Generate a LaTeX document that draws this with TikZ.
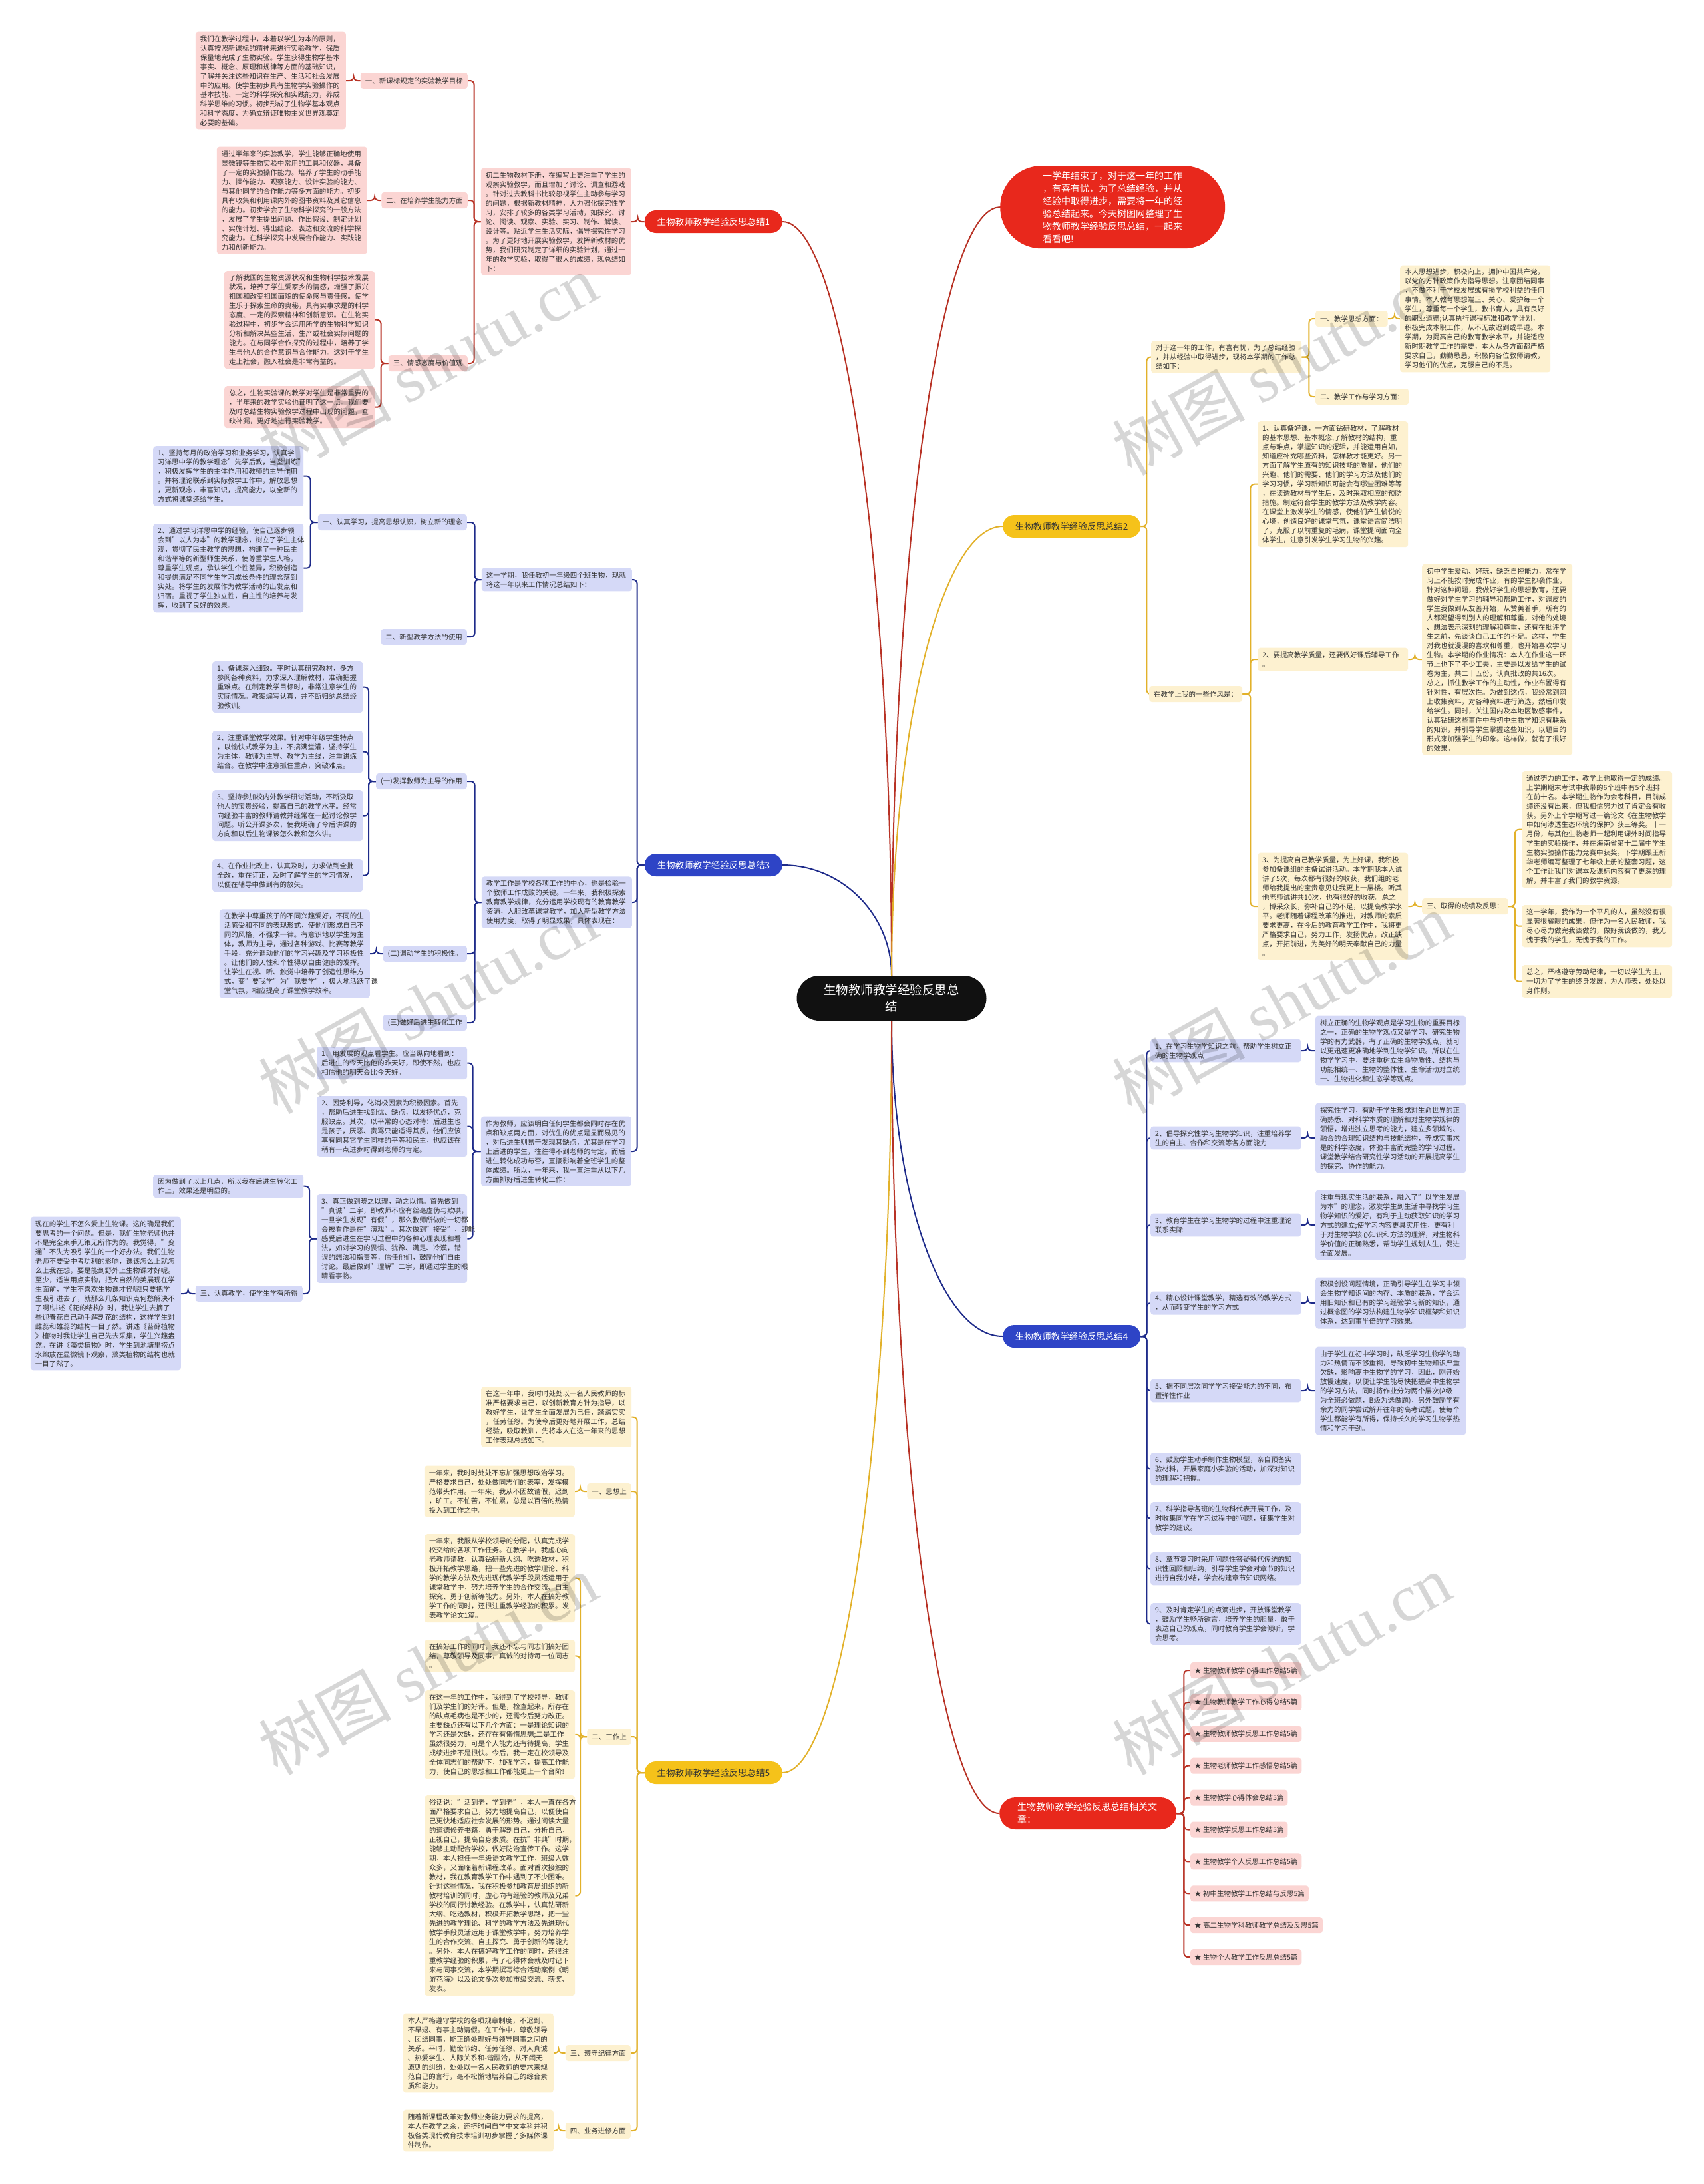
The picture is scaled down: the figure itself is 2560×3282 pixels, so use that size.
\documentclass[tikz,border=0pt]{standalone}
\usepackage{fontspec}
\setmainfont{Noto Sans CJK SC}
\newfontfamily\wmlatin{Liberation Serif}
\usetikzlibrary{backgrounds}
\definecolor{redL}{HTML}{B83225}
\definecolor{redF}{HTML}{E8281C}
\definecolor{pinkF}{HTML}{FBD5D3}
\definecolor{goldL}{HTML}{E2B12A}
\definecolor{goldF}{HTML}{F5C21A}
\definecolor{creamF}{HTML}{FDF1D0}
\definecolor{navyL}{HTML}{1E2B8A}
\definecolor{blueF}{HTML}{2E44C6}
\definecolor{lavF}{HTML}{D5D9F7}
\definecolor{txt}{HTML}{333333}
\definecolor{rootF}{HTML}{111111}
\newcommand{\Lc}[4]{\draw[#1] (#2.west) -- ++(-#3,0) |- (#4.east);}
\newcommand{\Rc}[4]{\draw[#1] (#2.east) -- ++(#3,0) |- (#4.west);}
\begin{document}
\begin{tikzpicture}[x=1pt,y=-1pt,
  every node/.style={font=\fontsize{10.5}{14}\selectfont, text=txt},
  box/.style={rounded corners=4pt, inner xsep=7pt, inner ysep=5.5pt, text width=212pt, align=left},
  b1/.style={box, fill=pinkF},
  b2/.style={box, fill=creamF},
  b3/.style={box, fill=lavF},
  lab/.style={rounded corners=4pt, inner xsep=7pt, inner ysep=4pt, minimum height=24pt},
  l1/.style={lab, fill=pinkF},
  l2/.style={lab, fill=creamF},
  l3/.style={lab, fill=lavF},
  blab/.style={rounded corners=17pt, minimum width=207pt, minimum height=34pt, font=\fontsize{13.5}{16}\selectfont},
  c1/.style={draw=redL, line width=2pt, rounded corners=6pt},
  c2/.style={draw=goldL, line width=2pt, rounded corners=6pt},
  c3/.style={draw=navyL, line width=2pt, rounded corners=6pt},
  m1/.style={draw=redL, line width=2pt},
  m2/.style={draw=goldL, line width=2pt},
  m3/.style={draw=navyL, line width=2pt}]
\useasboundingbox (0,0) rectangle (2560,3282);

% ---------------- central
\node[fill=rootF, text=white, rounded corners=34pt, minimum width=285pt, minimum height=68pt, text width=215pt, align=center, inner xsep=35pt, font=\fontsize{18.5}{25}\selectfont] (C) at (1340,1500) {生物教师教学经验反思总\\结};

% ---------------- branch 1
\node[blab, fill=redF, text=white, anchor=east] (B1) at (1176,333) {生物教师教学经验反思总结1};
\node[b1, anchor=east] (M1) at (949,333) {初二生物教材下册，在编写上更注重了学生的\\
观察实验教学，而且增加了讨论、调查和游戏\\
。针对过去教科书比较忽视学生主动参与学习\\
的问题，根据新教材精神，大力强化探究性学\\
习，安排了较多的各类学习活动，如探究、讨\\
论、阅读、观察、实验、实习、制作、解读、\\
设计等。贴近学生生活实际，倡导探究性学习\\
。为了更好地开展实验教学，发挥新教材的优\\
势，我们研究制定了详细的实验计划，通过一\\
年的教学实验，取得了很大的成绩，现总结如\\
下：};
\node[l1, anchor=east] (L1a) at (703,121) {一、新课标规定的实验教学目标};
\node[l1, anchor=east] (L1b) at (703,301) {二、在培养学生能力方面};
\node[l1, anchor=east] (L1c) at (703,546) {三、情感态度与价值观};
\node[b1, anchor=east] (A1) at (520,121) {我们在教学过程中，本着以学生为本的原则，\\
认真按照新课标的精神来进行实验教学，保质\\
保量地完成了生物实验。学生获得生物学基本\\
事实、概念、原理和规律等方面的基础知识，\\
了解并关注这些知识在生产、生活和社会发展\\
中的应用。使学生初步具有生物学实验操作的\\
基本技能、一定的科学探究和实践能力，养成\\
科学思维的习惯。初步形成了生物学基本观点\\
和科学态度，为确立辩证唯物主义世界观奠定\\
必要的基础。};
\node[b1, anchor=east] (A2) at (552,301) {通过半年来的实验教学，学生能够正确地使用\\
显微镜等生物实验中常用的工具和仪器，具备\\
了一定的实验操作能力。培养了学生的动手能\\
力、操作能力、观察能力、设计实验的能力、\\
与其他同学的合作能力等多方面的能力。初步\\
具有收集和利用课内外的图书资料及其它信息\\
的能力。初步学会了生物科学探究的一般方法\\
，发展了学生提出问题、作出假设、制定计划\\
、实施计划、得出结论、表达和交流的科学探\\
究能力。在科学探究中发展合作能力、实践能\\
力和创新能力。};
\node[b1, anchor=north west] (A3) at (337,407) {了解我国的生物资源状况和生物科学技术发展\\
状况，培养了学生爱家乡的情感，增强了振兴\\
祖国和改变祖国面貌的使命感与责任感。使学\\
生乐于探索生命的奥秘，具有实事求是的科学\\
态度、一定的探索精神和创新意识。在生物实\\
验过程中，初步学会运用所学的生物科学知识\\
分析和解决某些生活、生产或社会实际问题的\\
能力。在与同学合作探究的过程中，培养了学\\
生与他人的合作意识与合作能力。这对于学生\\
走上社会，融入社会是非常有益的。};
\node[b1, anchor=north west] (A4) at (337,580) {总之，生物实验课的教学对学生是非常重要的\\
，半年来的教学实验也证明了这一点。我们要\\
及时总结生物实验教学过程中出现的问题，查\\
缺补漏，更好地进行实验教学。};

% ---------------- branch 3
\node[blab, fill=blueF, text=white, anchor=east] (B3) at (1176,1300) {生物教师教学经验反思总结3};
\node[b3, anchor=east] (M3a) at (950,871) {这一学期，我任教初一年级四个班生物，现就\\
将这一年以来工作情况总结如下：};
\node[l3, anchor=east] (L3a) at (702,785) {一、认真学习，提高思想认识，树立新的理念};
\node[l3, anchor=east] (L3b) at (702,957) {二、新型教学方法的使用};
\node[b3, anchor=north west] (T1) at (230,670) {1、坚持每月的政治学习和业务学习，认真学\\
习洋思中学的教学理念"先学后教，当堂训练"\\
，积极发挥学生的主体作用和教师的主导作用\\
。并将理论联系到实际教学工作中，解放思想\\
，更新观念，丰富知识，提高能力，以全新的\\
方式将课堂还给学生。};
\node[b3, anchor=north west] (T2) at (230,787) {2、通过学习洋思中学的经验，使自己逐步领\\
会到"以人为本"的教学理念，树立了学生主体\\
观，贯彻了民主教学的思想，构建了一种民主\\
和谐平等的新型师生关系，使尊重学生人格，\\
尊重学生观点，承认学生个性差异，积极创造\\
和提供满足不同学生学习成长条件的理念落到\\
实处。将学生的发展作为教学活动的出发点和\\
归宿。重视了学生独立性，自主性的培养与发\\
挥，收到了良好的效果。};
\node[b3, anchor=east] (M3b) at (950,1356) {教学工作是学校各项工作的中心，也是检验一\\
个教师工作成败的关键。一年来，我积极探索\\
教育教学规律，充分运用学校现有的教育教学\\
资源，大胆改革课堂教学，加大新型教学方法\\
使用力度，取得了明显效果，具体表现在：};
\node[l3, anchor=east] (L3c) at (702,1174) {(一)发挥教师为主导的作用};
\node[l3, anchor=east] (L3d) at (702,1433) {(二)调动学生的积极性。};
\node[l3, anchor=east] (L3e) at (702,1537) {(三)做好后进生转化工作};
\node[b3, anchor=north west] (T31) at (319,994) {1、备课深入细致。平时认真研究教材，多方\\
参阅各种资料，力求深入理解教材，准确把握\\
重难点。在制定教学目标时，非常注意学生的\\
实际情况。教案编写认真，并不断归纳总结经\\
验教训。};
\node[b3, anchor=north west] (T32) at (319,1098) {2、注重课堂教学效果。针对中年级学生特点\\
，以愉快式教学为主，不搞满堂灌，坚持学生\\
为主体，教师为主导、教学为主线，注重讲练\\
结合。在教学中注意抓住重点，突破难点。};
\node[b3, anchor=north west] (T33) at (319,1187) {3、坚持参加校内外教学研讨活动，不断汲取\\
他人的宝贵经验，提高自己的教学水平。经常\\
向经验丰富的教师请教并经常在一起讨论教学\\
问题。听公开课多次，使我明确了今后讲课的\\
方向和以后生物课该怎么教和怎么讲。};
\node[b3, anchor=north west] (T34) at (319,1291) {4、在作业批改上，认真及时，力求做到全批\\
全改，重在订正，及时了解学生的学习情况，\\
以便在辅导中做到有的放矢。};
\node[b3, anchor=east] (T35) at (556,1433) {在教学中尊重孩子的不同兴趣爱好，不同的生\\
活感受和不同的表现形式，使他们形成自己不\\
同的风格，不强求一律。有意识地以学生为主\\
体，教师为主导，通过各种游戏、比赛等教学\\
手段，充分调动他们的学习兴趣及学习积极性\\
。让他们的天性和个性得以自由健康的发挥。\\
让学生在视、听、触觉中培养了创造性思维方\\
式，变"要我学"为"我要学"，极大地活跃了课\\
堂气氛，相应提高了课堂教学效率。};
\node[b3, anchor=east] (M3c) at (949,1730) {作为教师，应该明白任何学生都会同时存在优\\
点和缺点两方面，对优生的优点是显而易见的\\
，对后进生则易于发现其缺点，尤其是在学习\\
上后进的学生，往往得不到老师的肯定，而后\\
进生转化成功与否，直接影响着全班学生的整\\
体成绩。所以，一年来，我一直注重从以下几\\
方面抓好后进生转化工作：};
\node[b3, anchor=north west] (T41) at (476,1573) {1、用发展的观点看学生。应当纵向地看到：\\
后进生的今天比他的昨天好，即使不然，也应\\
相信他的明天会比今天好。};
\node[b3, anchor=north west] (T42) at (476,1647) {2、因势利导，化消极因素为积极因素。首先\\
，帮助后进生找到优、缺点，以发扬优点，克\\
服缺点。其次，以平常的心态对待：后进生也\\
是孩子，厌恶、责骂只能适得其反，他们应该\\
享有同其它学生同样的平等和民主，也应该在\\
稍有一点进步时得到老师的肯定。};
\node[b3, anchor=north west] (T43) at (476,1795) {3、真正做到晓之以理，动之以情。首先做到\\
"真诚"二字，即教师不应有丝毫虚伪与欺哄，\\
一旦学生发现"有假"，那么教师所做的一切都\\
会被看作是在"演戏"。其次做到"接受"，即能\\
感受后进生在学习过程中的各种心理表现和看\\
法，如对学习的畏惧、犹豫、满足、冷漠，错\\
误的想法和指责等，信任他们，鼓励他们自由\\
讨论。最后做到"理解"二字，即通过学生的眼\\
睛看事物。};
\node[b3, anchor=north west] (T44) at (230,1765) {因为做到了以上几点，所以我在后进生转化工\\
作上，效果还是明显的。};
\node[l3, anchor=east] (L3f) at (455,1944) {三、认真教学，使学生学有所得};
\node[b3, anchor=east] (T45) at (272,1944) {现在的学生不怎么爱上生物课。这的确是我们\\
要思考的一个问题。但是，我们生物老师也并\\
不是完全束手无策无所作为的。我觉得，"变\\
通"不失为吸引学生的一个好办法。我们生物\\
老师不要受中考功利的影响，课该怎么上就怎\\
么上我在想，要是能到野外上生物课才好呢。\\
至少，适当用点实物，把大自然的美展现在学\\
生面前，学生不喜欢生物课才怪呢!只要把学\\
生吸引进去了，就那么几条知识点何愁解决不\\
了啊!讲述《花的结构》时，我让学生去摘了\\
些迎春花自己动手解剖花的结构，这样学生对\\
雌蕊和雄蕊的结构一目了然。讲述《苔藓植物\\
》植物时我让学生自己先去采集，学生兴趣盎\\
然。在讲《藻类植物》时，学生到池塘里捞点\\
水绵放在显微镜下观察，藻类植物的结构也就\\
一目了然了。};

% ---------------- branch 5
\node[blab, fill=goldF, anchor=east] (B5) at (1176,2664) {生物教师教学经验反思总结5};
\node[b2, anchor=north west] (P1) at (723,2084) {在这一年中，我时时处处以一名人民教师的标\\
准严格要求自己，以创新教育方针为指导，以\\
教好学生，让学生全面发展为己任，踏踏实实\\
，任劳任怨。为使今后更好地开展工作，总结\\
经验，吸取教训，先将本人在这一年来的思想\\
工作表现总结如下。};
\node[l2, anchor=east] (L5a) at (949,2241) {一、思想上};
\node[b2, anchor=east] (P2) at (864,2241) {一年来，我时时处处不忘加强思想政治学习。\\
严格要求自己，处处做同志们的表率，发挥模\\
范带头作用。一年来，我从不因故请假，迟到\\
，旷工。不怕苦，不怕累，总是以百倍的热情\\
投入到工作之中。};
\node[l2, anchor=east] (L5b) at (949,2610) {二、工作上};
\node[b2, anchor=north west] (P3) at (638,2305) {一年来，我服从学校领导的分配，认真完成学\\
校交给的各项工作任务。在教学中，我虚心向\\
老教师请教，认真钻研新大纲、吃透教材，积\\
极开拓教学思路，把一些先进的教学理论、科\\
学的教学方法及先进现代教学手段灵活运用于\\
课堂教学中，努力培养学生的合作交流、自主\\
探究、勇于创新等能力。另外，本人在搞好教\\
学工作的同时，还很注重教学经验的积累。发\\
表教学论文1篇。};
\node[b2, anchor=north west] (P4) at (638,2464) {在搞好工作的同时，我还不忘与同志们搞好团\\
结，尊敬领导及同事，真诚的对待每一位同志\\
。};
\node[b2, anchor=north west] (P5) at (638,2540) {在这一年的工作中，我得到了学校领导，教师\\
们及学生们的好评。但是，检查起来，所存在\\
的缺点毛病也是不少的，还需今后努力改正。\\
主要缺点还有以下几个方面：一是理论知识的\\
学习还是欠缺，还存在有懒惰思想;二是工作\\
虽然很努力，可是个人能力还有待提高，学生\\
成绩进步不是很快。今后，我一定在校领导及\\
全体同志们的帮助下，加强学习，提高工作能\\
力，使自己的思想和工作都能更上一个台阶!};
\node[b2, anchor=north west] (P6) at (638,2698) {俗话说："活到老，学到老"，本人一直在各方\\
面严格要求自己，努力地提高自己，以便使自\\
己更快地适应社会发展的形势。通过阅读大量\\
的道德修养书籍，勇于解剖自己，分析自己，\\
正视自己，提高自身素质。在抗"非典"时期，\\
能够主动配合学校，做好防治宣传工作。这学\\
期，本人担任一年级语文教学工作，班级人数\\
众多，又面临着新课程改革。面对首次接触的\\
教材，我在教育教学工作中遇到了不少困难。\\
针对这些情况，我在积极参加教育局组织的新\\
教材培训的同时，虚心向有经验的教师及兄弟\\
学校的同行讨教经验。在教学中，认真钻研新\\
大纲、吃透教材，积极开拓教学思路，把一些\\
先进的教学理论、科学的教学方法及先进现代\\
教学手段灵活运用于课堂教学中，努力培养学\\
生的合作交流、自主探究、勇于创新的等能力\\
。另外，本人在搞好教学工作的同时，还很注\\
重教学经验的积累，有了心得体会就及时记下\\
来与同事交流，本学期撰写综合活动案例《朝\\
游花海》以及论文多次参加市级交流、获奖、\\
发表。};
\node[l2, anchor=east] (L5c) at (948,3085) {三、遵守纪律方面};
\node[b2, anchor=east] (P7) at (832,3085) {本人严格遵守学校的各项规章制度，不迟到、\\
不早退、有事主动请假。在工作中，尊敬领导\\
、团结同事，能正确处理好与领导同事之间的\\
关系。平时，勤俭节约、任劳任怨、对人真诚\\
、热爱学生、人际关系和-谐融洽，从不闹无\\
原则的纠纷，处处以一名人民教师的要求来规\\
范自己的言行，毫不松懈地培养自己的综合素\\
质和能力。};
\node[l2, anchor=east] (L5d) at (948,3202) {四、业务进修方面};
\node[b2, anchor=east] (P8) at (832,3202) {随着新课程改革对教师业务能力要求的提高，\\
本人在教学之余，还挤时间自学中文本科并积\\
极各类现代教育技术培训初步掌握了多媒体课\\
件制作。};

% ---------------- top right oval
\node[fill=redF, text=white, rounded corners=62pt, anchor=north west, text width=210pt, align=left, inner xsep=64pt, inner ysep=8pt, font=\fontsize{14}{19}\selectfont] (Ov) at (1503,249) {一学年结束了，对于这一年的工作\\
，有喜有忧，为了总结经验，并从\\
经验中取得进步，需要将一年的经\\
验总结起来。今天树图网整理了生\\
物教师教学经验反思总结，一起来\\
看看吧!};

% ---------------- branch 2
\node[blab, fill=goldF, anchor=west] (B2) at (1507,791) {生物教师教学经验反思总结2};
\node[b2, anchor=north west] (Q1) at (1730,512) {对于这一年的工作，有喜有忧，为了总结经验\\
，并从经验中取得进步，现将本学期的工作总\\
结如下：};
\node[l2, anchor=west] (L2a) at (1977,479) {一、教学思想方面：};
\node[l2, anchor=west] (L2b) at (1977,596) {二、教学工作与学习方面：};
\node[b2, anchor=west] (Q2) at (2104,479) {本人思想进步，积极向上，拥护中国共产党，\\
以党的方针政策作为指导思想。注意团结同事\\
，不做不利于学校发展或有损学校利益的任何\\
事情。本人教育思想端正、关心、爱护每一个\\
学生，尊重每一个学生，教书育人，具有良好\\
的职业道德;认真执行课程标准和教学计划，\\
积极完成本职工作，从不无故迟到或早退。本\\
学期，为提高自己的教育教学水平，并能适应\\
新时期教学工作的需要，本人从各方面都严格\\
要求自己，勤勤恳恳，积极向各位教师请教，\\
学习他们的优点，克服自己的不足。};
\node[l2, anchor=west] (L2c) at (1727,1043) {在教学上我的一些作风是：};
\node[b2, anchor=north west] (Q3) at (1890,633) {1、认真备好课，一方面钻研教材，了解教材\\
的基本思想、基本概念;了解教材的结构，重\\
点与难点，掌握知识的逻辑，并能运用自如，\\
知道应补充哪些资料，怎样教才能更好。另一\\
方面了解学生原有的知识技能的质量，他们的\\
兴趣、他们的需要、他们的学习方法及他们的\\
学习习惯，学习新知识可能会有哪些困难等等\\
，在读透教材与学生后，及时采取相应的预防\\
措施。制定符合学生的教学方法及教学内容。\\
在课堂上激发学生的情感，使他们产生愉悦的\\
心境，创造良好的课堂气氛，课堂语言简洁明\\
了，克服了以前重复的毛病，课堂提问面向全\\
体学生，注意引发学生学习生物的兴趣。};
\node[b2, anchor=west] (L2d) at (1890,991) {2、要提高教学质量，还要做好课后辅导工作\\
。};
\node[b2, anchor=west] (Q4) at (2137,991) {初中学生爱动、好玩，缺乏自控能力，常在学\\
习上不能按时完成作业，有的学生抄袭作业，\\
针对这种问题，我做好学生的思想教育，还要\\
做好对学生学习的辅导和帮助工作，对调皮的\\
学生我做到从友善开始，从赞美着手，所有的\\
人都渴望得到别人的理解和尊重，对他的处境\\
、想法表示深刻的理解和尊重，还有在批评学\\
生之前，先谈谈自己工作的不足。这样，学生\\
对我也就漫漫的喜欢和尊重，也开始喜欢学习\\
生物。本学期的作业情况：本人在作业这一环\\
节上也下了不少工夫。主要是以发给学生的试\\
卷为主，共二十五份，认真批改的共16次。\\
总之，抓住教学工作的主动性，作业布置得有\\
针对性，有层次性。为做到这点，我经常到网\\
上收集资料，对各种资料进行筛选，然后印发\\
给学生。同时，关注国内及本地区敏感事件，\\
认真钻研这些事件中与初中生物学知识有联系\\
的知识，并引导学生掌握这些知识，以题目的\\
形式来加强学生的印象。这样做，就有了很好\\
的效果。};
\node[b2, anchor=west] (Q5) at (1890,1362) {3、为提高自己教学质量，为上好课，我积极\\
参加备课组的主备试讲活动。本学期我本人试\\
讲了5次，每次都有很好的收获，我们组的老\\
师给我提出的宝贵意见让我更上一层楼。听其\\
他老师试讲共10次，也有很好的收获。总之\\
，博采众长，弥补自己的不足，以提高教学水\\
平。老师随着课程改革的推进，对教师的素质\\
要求更高，在今后的教育教学工作中，我将更\\
严格要求自己，努力工作，发扬优点，改正缺\\
点，开拓前进，为美好的明天奉献自己的力量\\
。};
\node[l2, anchor=west] (L2e) at (2137,1362) {三、取得的成绩及反思：};
\node[b2, anchor=north west] (Q6) at (2287,1159) {通过努力的工作，教学上也取得一定的成绩。\\
上学期期末考试中我带的6个班中有5个班排\\
在前十名。本学期生物作为会考科目，目前成\\
绩还没有出来，但我相信努力过了肯定会有收\\
获。另外上个学期写过一篇论文《在生物教学\\
中如何渗透生态环境的保护》获三等奖。十一\\
月份，与其他生物老师一起利用课外时间指导\\
学生的实验操作，并在海南省第十二届中学生\\
生物实验操作能力竞赛中获奖。下学期跟王新\\
华老师编写整理了七年级上册的整套习题，这\\
个工作让我们对课本及课标内容有了更深的理\\
解，并丰富了我们的教学资源。};
\node[b2, anchor=north west] (Q7) at (2287,1360) {这一学年，我作为一个平凡的人，虽然没有很\\
显著很耀眼的成果，但作为一名人民教师，我\\
尽心尽力做完我该做的，做好我该做的，我无\\
愧于我的学生，无愧于我的工作。};
\node[b2, anchor=north west] (Q8) at (2287,1450) {总之，严格遵守劳动纪律，一切以学生为主，\\
一切为了学生的终身发展。为人师表，处处以\\
身作则。};

% ---------------- branch 4
\node[blab, fill=blueF, text=white, anchor=west] (B4) at (1507,2008) {生物教师教学经验反思总结4};
\node[b3, anchor=west] (R1) at (1729,1579) {1、在学习生物学知识之前，帮助学生树立正\\
确的生物学观点};
\node[b3, anchor=west] (S1) at (1977,1579) {树立正确的生物学观点是学习生物的重要目标\\
之一，正确的生物学观点又是学习、研究生物\\
学的有力武器，有了正确的生物学观点，就可\\
以更迅速更准确地学到生物学知识。所以在生\\
物学学习中，要注重树立生命物质性、结构与\\
功能相统一、生物的整体性、生命活动对立统\\
一、生物进化和生态学等观点。};
\node[b3, anchor=west] (R2) at (1729,1710) {2、倡导探究性学习生物学知识，注重培养学\\
生的自主、合作和交流等各方面能力};
\node[b3, anchor=west] (S2) at (1977,1710) {探究性学习，有助于学生形成对生命世界的正\\
确熟悉、对科学本质的理解和对生物学规律的\\
领悟，增进独立思考的能力，建立多领域的、\\
融合的合理知识结构与技能结构，养成实事求\\
是的科学态度，体验丰富而完整的学习过程。\\
课堂教学结合研究性学习活动的开展提高学生\\
的探究、协作的能力。};
\node[b3, anchor=west] (R3) at (1729,1841) {3、教育学生在学习生物学的过程中注重理论\\
联系实际};
\node[b3, anchor=west] (S3) at (1977,1841) {注重与现实生活的联系，融入了"以学生发展\\
为本"的理念，激发学生到生活中寻找学习生\\
物学知识的爱好，有利于主动获取知识的学习\\
方式的建立;使学习内容更具实用性，更有利\\
于对生物学核心知识和方法的理解，对生物科\\
学价值的正确熟悉，帮助学生规划人生，促进\\
全面发展。};
\node[b3, anchor=west] (R4) at (1729,1958) {4、精心设计课堂教学，精选有效的教学方式\\
，从而转变学生的学习方式};
\node[b3, anchor=west] (S4) at (1977,1958) {积极创设问题情境，正确引导学生在学习中领\\
会生物学知识间的内存、本质的联系，学会运\\
用旧知识和已有的学习经验学习新的知识，通\\
过概念图的学习法构建生物学知识框架和知识\\
体系，达到事半倍的学习效果。};
\node[b3, anchor=west] (R5) at (1729,2090) {5、据不同层次同学学习接受能力的不同，布\\
置弹性作业};
\node[b3, anchor=west] (S5) at (1977,2090) {由于学生在初中学习时，缺乏学习生物学的动\\
力和热情而不够重视，导致初中生物知识严重\\
欠缺，影响高中生物学的学习，因此，刚开始\\
放慢速度，以便让学生能尽快把握高中生物学\\
的学习方法，同时将作业分为两个层次(A级\\
为全班必做题，B级为选做题)，另外鼓励学有\\
余力的同学尝试解开往年的高考试题，使每个\\
学生都能学有所得，保持长久的学习生物学热\\
情和学习干劲。};
\node[b3, anchor=north west] (R6) at (1729,2183) {6、鼓励学生动手制作生物模型，亲自预备实\\
验材料，开展家庭小实验的活动，加深对知识\\
的理解和把握。};
\node[b3, anchor=north west] (R7) at (1729,2257) {7、科学指导各班的生物科代表开展工作，及\\
时收集同学在学习过程中的问题，征集学生对\\
教学的建议。};
\node[b3, anchor=north west] (R8) at (1729,2333) {8、章节复习时采用问题性答疑替代传统的知\\
识性回顾和归纳，引导学生学会对章节的知识\\
进行自我小结，学会构建章节知识网络。};
\node[b3, anchor=north west] (R9) at (1729,2409) {9、及时肯定学生的点滴进步，开放课堂教学\\
，鼓励学生畅所欲言，培养学生的胆量，敢于\\
表达自己的观点，同时教育学生学会倾听，学\\
会思考。};

% ---------------- related articles
\node[fill=redF, text=white, rounded corners=24pt, anchor=west, text width=212pt, align=left, inner xsep=27pt, inner ysep=8pt, font=\fontsize{14}{19}\selectfont] (Rel) at (1502,2725) {生物教师教学经验反思总结相关文\\
章：};
\foreach \i/\t in {0/生物教师教学心得工作总结5篇, 1/生物教师教学工作心得总结5篇, 2/生物教师教学反思工作总结5篇, 3/生物老师教学工作感悟总结5篇, 4/生物教学心得体会总结5篇, 5/生物教学反思工作总结5篇, 6/生物教学个人反思工作总结5篇, 7/初中生物教学工作总结与反思5篇, 8/高二生物学科教师教学总结及反思5篇, 9/生物个人教学工作反思总结5篇}
  \node[l1, anchor=west, inner xsep=6pt] (rel\i) at (1789,{2510+47.9*\i}) {★ \t};

% ---------------- connectors
\begin{pgfonlayer}{background}
\fill[white] (0,0) rectangle (2560,3282);
\draw[m1] (C.north) .. controls (1340,843) and (1266,333) .. (B1.east);
\draw[m3] (C.north) .. controls (1340,1375) and (1266,1300) .. (B3.east);
\draw[m2] (C.south) .. controls (1340,2156) and (1266,2664) .. (B5.east);
\draw[m1] (C.north) .. controls (1340,831) and (1413,311) .. (Ov.west);
\draw[m2] (C.north) .. controls (1340,1095) and (1415,791) .. (B2.west);
\draw[m3] (C.south) .. controls (1340,1795) and (1415,2008) .. (B4.west);
\draw[m1] (C.south) .. controls (1340,2190) and (1413,2725) .. (Rel.west);
% branch 1
\Lc{c1}{B1}{10}{M1}
\foreach \ch in {L1a,L1b,L1c} {\Lc{c1}{M1}{10}{\ch}}
\Lc{c1}{L1a}{10}{A1}
\Lc{c1}{L1b}{10}{A2}
\foreach \ch in {A3,A4} {\Lc{c1}{L1c}{11}{\ch}}
% branch 3
\foreach \ch in {M3a,M3b,M3c} {\Lc{c3}{B3}{11}{\ch}}
\foreach \ch in {L3a,L3b} {\Lc{c3}{M3a}{10}{\ch}}
\foreach \ch in {T1,T2} {\Lc{c3}{L3a}{11}{\ch}}
\foreach \ch in {L3c,L3d,L3e} {\Lc{c3}{M3b}{10}{\ch}}
\foreach \ch in {T31,T32,T33,T34} {\Lc{c3}{L3c}{11}{\ch}}
\Lc{c3}{L3d}{10}{T35}
\foreach \ch in {T41,T42,T43} {\Lc{c3}{M3c}{12}{\ch}}
\foreach \ch in {T44,L3f} {\Lc{c3}{T43}{11}{\ch}}
\Lc{c3}{L3f}{11}{T45}
% branch 5
\foreach \ch in {P1,L5a,L5b,L5c,L5d} {\Lc{c2}{B5}{11}{\ch}}
\Lc{c2}{L5a}{10}{P2}
\foreach \ch in {P3,P4,P5,P6} {\Lc{c2}{L5b}{10}{\ch}}
\Lc{c2}{L5c}{10}{P7}
\Lc{c2}{L5d}{10}{P8}
% branch 2
\foreach \ch in {Q1,L2c} {\Rc{c2}{B2}{9}{\ch}}
\foreach \ch in {L2a,L2b} {\Rc{c2}{Q1}{11}{\ch}}
\Rc{c2}{L2a}{10}{Q2}
\foreach \ch in {Q3,L2d,Q5} {\Rc{c2}{L2c}{12}{\ch}}
\Rc{c2}{L2d}{10}{Q4}
\Rc{c2}{Q5}{10}{L2e}
\foreach \ch in {Q6,Q7,Q8} {\Rc{c2}{L2e}{10}{\ch}}
% branch 4
\foreach \ch in {R1,R2,R3,R4,R5,R6,R7,R8,R9} {\Rc{c3}{B4}{9}{\ch}}
\Rc{c3}{R1}{10}{S1}
\Rc{c3}{R2}{10}{S2}
\Rc{c3}{R3}{10}{S3}
\Rc{c3}{R4}{10}{S4}
\Rc{c3}{R5}{10}{S5}
% related
\foreach \i in {0,...,9} {\Rc{c1}{Rel}{11}{rel\i}}
\end{pgfonlayer}

% ---------------- watermark
\foreach \wx/\wy in {643/548, 1926/548, 643/1507, 1926/1507, 643/2501, 1926/2501}
  \node[rotate=29, text=black, opacity=0.16, font=\fontsize{100}{100}\selectfont] at (\wx,\wy) {树图 {\wmlatin shutu.cn}};
\end{tikzpicture}
\end{document}
